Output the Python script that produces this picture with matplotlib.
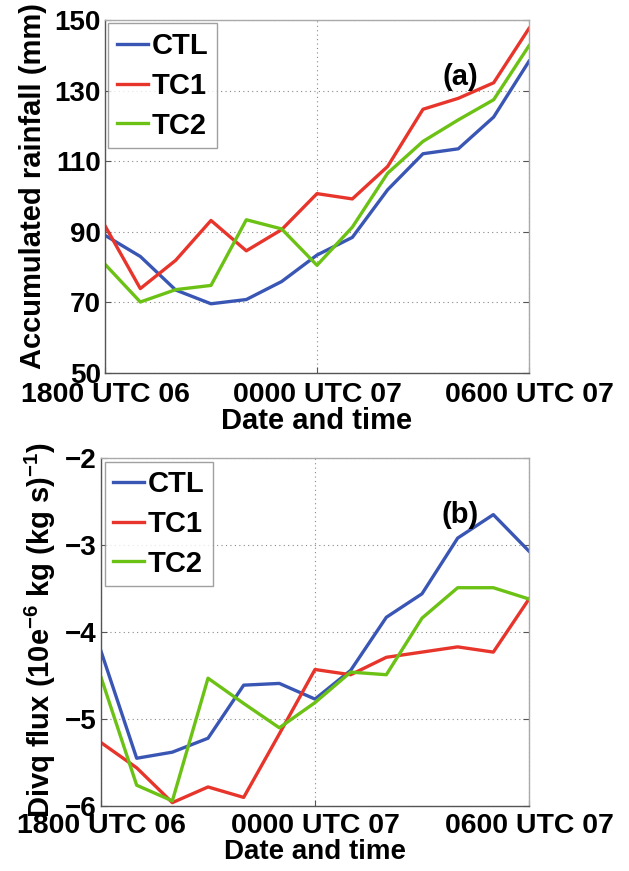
import matplotlib
matplotlib.use('Agg')
import matplotlib.pyplot as plt

plt.rcParams['font.family'] = ['Liberation Sans', 'DejaVu Sans']
plt.rcParams['font.weight'] = 'bold'
plt.rcParams['mathtext.fontset'] = 'custom'
plt.rcParams['mathtext.rm'] = 'Liberation Sans:bold'
plt.rcParams['mathtext.bf'] = 'Liberation Sans:bold'
plt.rcParams['mathtext.default'] = 'bf'

# hourly output, 1800 UTC 06 -> 0600 UTC 07
hours = list(range(13))
time_ticks = [0, 6, 12]
time_labels = ['1800 UTC 06', '0000 UTC 07', '0600 UTC 07']

# accumulated rainfall (mm)
rain_ctl = [89.0, 83.0, 73.5, 69.6, 70.8, 75.9, 83.4, 88.4, 101.9, 112.1, 113.5, 122.5, 138.3]
rain_tc1 = [91.7, 73.9, 81.9, 93.2, 84.6, 90.6, 100.8, 99.3, 108.5, 124.7, 127.8, 132.2, 147.6]
rain_tc2 = [80.8, 70.1, 73.6, 74.8, 93.4, 90.8, 80.5, 91.3, 106.6, 115.6, 121.7, 127.4, 142.7]

# moisture flux divergence
divq_ctl = [-4.22, -5.45, -5.38, -5.22, -4.61, -4.59, -4.77, -4.44, -3.83, -3.56, -2.92, -2.65, -3.07]
divq_tc1 = [-5.27, -5.56, -5.96, -5.78, -5.90, -5.17, -4.43, -4.49, -4.29, -4.23, -4.17, -4.23, -3.62]
divq_tc2 = [-4.52, -5.76, -5.94, -4.53, -4.82, -5.10, -4.81, -4.46, -4.49, -3.84, -3.49, -3.49, -3.62]

names = ['CTL', 'TC1', 'TC2']
colors = ['#3a56b4', '#e8352c', '#6cc214']

fig = plt.figure(figsize=(6.29, 8.71), dpi=100)
ax1 = fig.add_axes([0.1669, 0.5718, 0.6741, 0.4053])
ax2 = fig.add_axes([0.1606, 0.0745, 0.6804, 0.3996])


def style(ax, yticks, ylabel, label_xy, tickpad, xsize, xpad, tag, tag_xy):
    ax.set_xlim(0, 12)
    ax.set_xticks(time_ticks)
    ax.set_xticklabels(time_labels)
    ax.set_yticks(yticks)
    ax.set_ylim(yticks[0], yticks[-1])
    ax.grid(True, linestyle=(0, (1, 3)), color='#888888', linewidth=0.8)
    ax.tick_params(direction='in', length=4, width=0.8, color='#555555',
                   top=False, right=True)
    ax.tick_params(axis='x', labelsize=20.5, pad=tickpad)
    ax.tick_params(axis='y', labelsize=20, pad=3)
    for s in ax.spines.values():
        s.set_color('#aaaaaa')
        s.set_linewidth(1.0)
    ax.spines['left'].set_color('#555555')
    ax.spines['bottom'].set_color('#555555')
    ax.set_xlabel('Date and time', fontsize=xsize, fontweight='bold', labelpad=xpad)
    ax.set_ylabel(ylabel, fontsize=21, fontweight='bold')
    ax.yaxis.set_label_coords(*label_xy)
    ax.text(tag_xy[0], tag_xy[1], tag, fontsize=21, fontweight='bold',
            ha='center', va='center')
    leg = ax.legend(loc='upper left', fontsize=21, handlelength=1.05,
                    handletextpad=0.12, borderpad=0.3, labelspacing=0.4,
                    fancybox=False, borderaxespad=0.12)
    leg.get_frame().set_edgecolor('#888888')
    leg.get_frame().set_linewidth(1.0)


for vals, name, c in zip([rain_ctl, rain_tc1, rain_tc2], names, colors):
    ax1.plot(hours, vals, color=c, linewidth=2.4, label=name)
style(ax1, [50, 70, 90, 110, 130, 150], 'Accumulated rainfall (mm)',
      (-0.137, 0.53), 6.5, 21, -0.5, '(a)', (10.05, 133.9))

for vals, name, c in zip([divq_ctl, divq_tc1, divq_tc2], names, colors):
    ax2.plot(hours, vals, color=c, linewidth=2.4, label=name)
style(ax2, [-6, -5, -4, -3, -2],
      r'Divq flux (10e$^{-6}$ kg (kg s)$^{-1}$)',
      (-0.100, 0.506), 5, 20, 0, '(b)', (10.07, -2.65))

fig.savefig('out.png', dpi=100)
